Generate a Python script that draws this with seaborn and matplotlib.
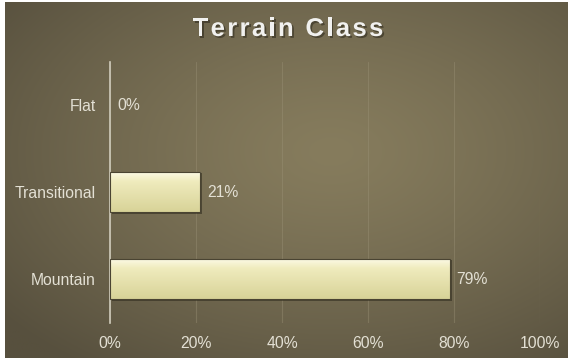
import numpy as np
import pandas as pd
import matplotlib
matplotlib.use("Agg")
import matplotlib.pyplot as plt
import matplotlib.patheffects as pe
from matplotlib.font_manager import FontProperties, findfont, get_font
from matplotlib.ticker import PercentFormatter
import seaborn as sns

categories = ["Flat", "Transitional", "Mountain"]
shares = [0, 21, 79]
x_ticks = [0, 20, 40, 60, 80, 100]
title = "Terrain Class"

sns.set_theme(style="white")
plt.rcParams["font.family"] = ["Liberation Sans", "DejaVu Sans"]

W, H = 568, 358
DPI = 100
fig = plt.figure(figsize=(W / DPI, H / DPI), dpi=DPI, facecolor="white")

# radial backdrop, lighter toward the middle
bg = fig.add_axes([5 / W, 0, (W - 5) / W, (H - 2) / H], zorder=0)
bg.set_axis_off()
yy, xx = np.mgrid[0:1:300j, 0:1:500j]
r = np.sqrt(((xx - 0.58) / 0.75) ** 2 + ((yy - 0.42) / 0.75) ** 2)
t = np.clip(r, 0, 1) ** 1.3
c_in = np.array([0x86, 0x7c, 0x5d]) / 255
c_out = np.array([0x57, 0x50, 0x3e]) / 255
img = c_in[None, None, :] * (1 - t[..., None]) + c_out[None, None, :] * t[..., None]
bg.imshow(img, aspect="auto", extent=[0, 1, 0, 1], origin="upper")
bg.set_xlim(0, 1)
bg.set_ylim(0, 1)

ax = fig.add_axes([110 / W, 1 - 322.5 / H, 430 / W, 261 / H], zorder=1)
ax.patch.set_alpha(0)

df = pd.DataFrame({"category": categories, "share": shares})
sns.barplot(data=df, x="share", y="category", orient="h", ax=ax,
            color="#ece8b8", width=0.47, edgecolor="#4a4432", linewidth=0.8,
            zorder=3)

# cream gradient fill inside each bar
grad = np.linspace(0, 1, 64)
col_top = np.array([0xfd, 0xfb, 0xe8]) / 255
col_mid = np.array([0xef, 0xeb, 0xbd]) / 255
col_bot = np.array([0xd8, 0xd3, 0x98]) / 255
rows = []
for g in grad:
    if g < 0.25:
        c = col_top * (1 - g / 0.25) + col_mid * (g / 0.25)
    else:
        k = (g - 0.25) / 0.75
        c = col_mid * (1 - k) + col_bot * k
    rows.append(c)
grad_img = np.array(rows)[:, None, :]
for p in ax.patches:
    w = p.get_width()
    if w <= 0:
        p.set_visible(False)
        continue
    x0, y0 = p.get_x(), p.get_y()
    h = p.get_height()
    shadow = plt.Rectangle((x0, y0), w, h, facecolor="#2c281c", edgecolor="none",
                           alpha=0.55, zorder=3.2,
                           transform=ax.transData + matplotlib.transforms.ScaledTranslation(
                               1.8 / DPI, -1.8 / DPI, fig.dpi_scale_trans))
    ax.add_artist(shadow)
    im = ax.imshow(grad_img, aspect="auto", extent=[x0, x0 + w, y0 + h, y0],
                   origin="upper", zorder=3.5)
    im.set_clip_path(p)
    p.set_zorder(4)
    p.set_facecolor("none")

label_color = "#e3e0d4"
for p, v in zip(ax.patches, shares):
    ax.text(p.get_x() + p.get_width() + 1.6, p.get_y() + p.get_height() / 2,
            f"{v}%", va="center", ha="left", fontsize=11.3, color=label_color,
            zorder=5)

ax.set_xlim(0, 100)
ax.set_ylim(2.5, -0.5)
ax.set_xticks(x_ticks)
ax.xaxis.set_major_formatter(PercentFormatter(decimals=0))
ax.tick_params(axis="x", labelsize=11.3, length=0, pad=10)
ax.tick_params(axis="y", labelsize=11.3, length=0, pad=10)
for lab in ax.get_xticklabels() + ax.get_yticklabels():
    lab.set_color(label_color)
ax.set_xlabel("")
ax.set_ylabel("")
ax.grid(axis="x", color="#9c9378", linewidth=0.8, alpha=0.4, zorder=0)
ax.set_axisbelow(True)
for s in ["top", "right", "bottom"]:
    ax.spines[s].set_visible(False)
ax.spines["left"].set_color("#d0ccbc")
ax.spines["left"].set_linewidth(1.2)

# spaced-out bold title, laid out glyph by glyph
t_size = 18.5
t_track = 2.3  # extra pixels between letters
t_prop = FontProperties(family="Liberation Sans", weight="bold", size=t_size)
ft = get_font(findfont(t_prop))
ft.set_size(t_size, DPI)
advances = []
for ch in title:
    g = ft.load_char(ord(ch))
    advances.append(g.linearHoriAdvance / 65536)
total = sum(advances) + t_track * (len(title) - 1)
x_start = 288 - total / 2
y_title = 1 - 29 / H
x = x_start
for ch, adv in zip(title, advances):
    fig.text(x / W, y_title, ch, ha="left", va="center", fontproperties=t_prop,
             color="#f1f1ef", zorder=5,
             path_effects=[pe.withSimplePatchShadow(offset=(1.3, -1.3),
                                                    shadow_rgbFace="#2a261a",
                                                    alpha=0.55)])
    x += adv + t_track

fig.savefig("out.png", dpi=DPI, facecolor="white")
